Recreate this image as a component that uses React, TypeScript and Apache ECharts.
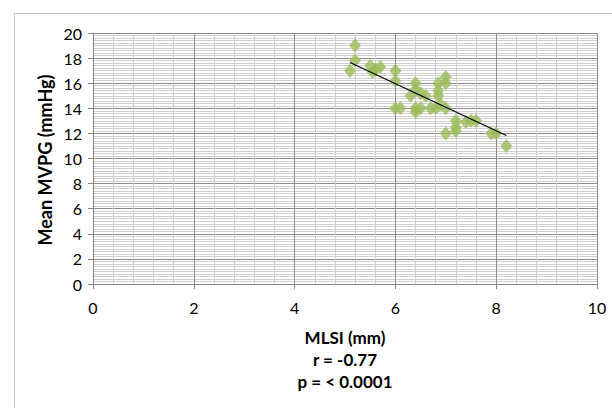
import React, { useEffect, useRef } from "react";
import * as echarts from "echarts";

const mlsi = [5.1, 5.2, 5.2, 5.5, 5.55, 5.6, 5.7, 6.0, 6.0, 6.0, 6.1, 6.3, 6.4, 6.4, 6.5, 6.4, 6.4, 6.5, 6.6, 6.7, 6.8, 6.85, 6.85, 6.85, 6.9, 7.0, 7.0, 7.0, 7.0, 7.2, 7.2, 7.2, 7.4, 7.5, 7.6, 7.9, 8.0, 8.2];
const mvpg = [17, 19, 17.8, 17.4, 16.9, 17.1, 17.3, 17, 16.2, 14, 14, 15, 16, 15.5, 15.2, 14, 13.7, 14, 15, 14, 14, 15, 15.4, 16, 14.3, 14, 16, 16.5, 12, 12.5, 12.2, 13, 12.9, 13, 13, 12, 12, 11];
const trendX = [5.1, 8.2];
const trendY = [17.65, 11.83];
const xTicks = [0, 2, 4, 6, 8, 10];
const yTicks = [0, 2, 4, 6, 8, 10, 12, 14, 16, 18, 20];
const xTitle = "MLSI (mm)";
const yTitle = "Mean MVPG (mmHg)";
const statLines = ["r = -0.77", "p = < 0.0001"];

const FONT = "Lato, 'Open Sans', sans-serif";

export default function App() {
  const ref = useRef<HTMLDivElement>(null);
  useEffect(() => {
    if (!ref.current) return;
    const chart = echarts.init(ref.current, null, { renderer: "svg" });
    const axisCommon = {
      type: "value" as const,
      axisLine: { show: true, lineStyle: { color: "#868686", width: 1 } },
      axisTick: { show: true, inside: false, length: 5, lineStyle: { color: "#868686" } },
      axisLabel: { color: "#000", fontFamily: FONT, fontSize: 16 },
      splitLine: { show: true, lineStyle: { color: "#8c8c8c", width: 1 } },
      minorTick: { show: true, length: 0, lineStyle: { opacity: 0 } },
      minorSplitLine: { show: true, lineStyle: { color: "#cfcfcf", width: 1 } },
    };
    const titleStyle = {
      fontFamily: FONT,
      fontSize: 17,
      fontWeight: "bold",
      fill: "#000",
      align: "center",
      verticalAlign: "middle",
    };
    chart.setOption({
      animation: false,
      backgroundColor: "#fff",
      grid: { left: 93, right: 15, top: 33, bottom: 124, containLabel: false },
      xAxis: {
        ...axisCommon,
        min: xTicks[0],
        max: xTicks[xTicks.length - 1],
        interval: 2,
        minorTick: { ...axisCommon.minorTick, splitNumber: 5 },
        axisLabel: { ...axisCommon.axisLabel, margin: 15 },
      },
      yAxis: {
        ...axisCommon,
        min: yTicks[0],
        max: yTicks[yTicks.length - 1],
        interval: 2,
        minorTick: { ...axisCommon.minorTick, splitNumber: 10 },
        axisLabel: { ...axisCommon.axisLabel, margin: 11 },
      },
      graphic: [
        {
          type: "rect",
          silent: true,
          shape: { x: 14.5, y: 13.5, width: 700, height: 500 },
          style: { fill: "none", stroke: "#c8c8c8", lineWidth: 1 },
          z: -1,
        },
        {
          type: "text",
          x: 45,
          y: 160,
          rotation: Math.PI / 2,
          style: { ...titleStyle, text: yTitle, fontSize: 18 },
        },
        {
          type: "text",
          x: 345,
          y: 337,
          style: { ...titleStyle, text: xTitle },
        },
        ...statLines.map((t, i) => ({
          type: "text",
          x: 345,
          y: 359 + i * 22,
          style: { ...titleStyle, text: t },
        })),
      ],
      series: [
        {
          type: "scatter",
          data: mlsi.map((x, i) => [x, mvpg[i]]),
          symbol: "diamond",
          symbolSize: [12, 14],
          itemStyle: { color: "#9BBB59" },
          z: 2,
        },
        {
          type: "line",
          data: trendX.map((x, i) => [x, trendY[i]]),
          symbol: "none",
          lineStyle: { color: "#000", width: 1.2 },
          z: 3,
        },
      ],
    });
    return () => chart.dispose();
  }, []);
  return <div ref={ref} style={{ width: 612, height: 408, position: "absolute", left: 0, top: 0 }} />;
}
